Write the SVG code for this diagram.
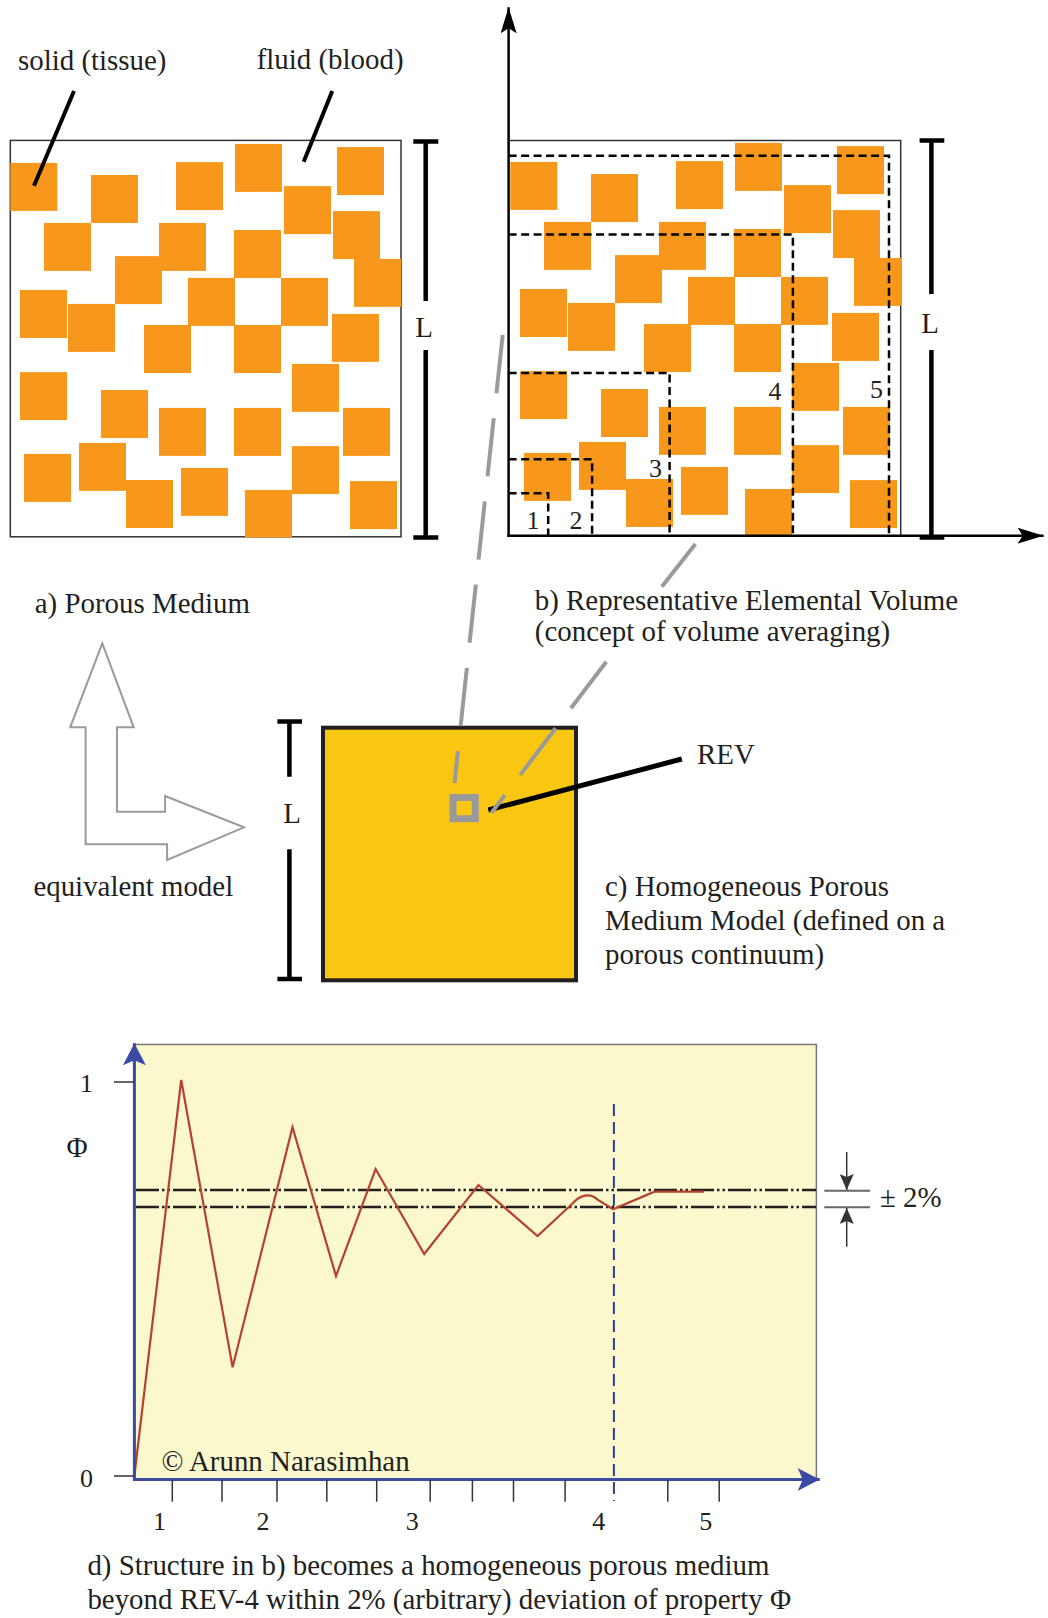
<svg xmlns="http://www.w3.org/2000/svg" xmlns:xlink="http://www.w3.org/1999/xlink" width="1048" height="1618" viewBox="0 0 1048 1618">
<style>
text{font-family:"Liberation Serif","Times New Roman",serif;fill:#231f20}
.t28{font-size:28.9px}
.t26{font-size:26px}
.pore{fill:#f7981d}
.box{fill:none;stroke:#333;stroke-width:1.5}
.rev{fill:none;stroke:#000;stroke-width:2.5;stroke-dasharray:8 4.5}
.gray{fill:none;stroke:#9a9a9a;stroke-width:4}
.dim{fill:none;stroke:#000;stroke-width:4.5}
.dd{fill:none;stroke:#231f20;stroke-width:2.7;stroke-dasharray:23 3 2.5 3 2.5 3}
.tick{stroke:#333;stroke-width:1.5}
.blue{stroke:#3b4ba3;stroke-width:3;fill:none}
</style>
<defs>
<g id="pores">
<rect class="pore" x="10.3" y="162.9" width="47" height="48"/>
<rect class="pore" x="91" y="175" width="47" height="48"/>
<rect class="pore" x="176" y="162.1" width="47" height="48"/>
<rect class="pore" x="235" y="143.9" width="47" height="48"/>
<rect class="pore" x="337" y="147.1" width="47" height="48"/>
<rect class="pore" x="284" y="186.1" width="47" height="48"/>
<rect class="pore" x="44" y="222.9" width="47" height="48"/>
<rect class="pore" x="159" y="222.9" width="47" height="48"/>
<rect class="pore" x="234" y="230" width="47" height="48"/>
<rect class="pore" x="333" y="211.1" width="47" height="48"/>
<rect class="pore" x="115" y="256.1" width="47" height="48"/>
<rect class="pore" x="354" y="258.9" width="47" height="48"/>
<rect class="pore" x="20" y="290" width="47" height="48"/>
<rect class="pore" x="68" y="303.9" width="47" height="48"/>
<rect class="pore" x="188" y="277.9" width="47" height="48"/>
<rect class="pore" x="281" y="277.9" width="47" height="48"/>
<rect class="pore" x="144" y="325" width="47" height="48"/>
<rect class="pore" x="234" y="325" width="47" height="48"/>
<rect class="pore" x="332" y="313.9" width="47" height="48"/>
<rect class="pore" x="20" y="372.1" width="47" height="48"/>
<rect class="pore" x="292" y="363.9" width="47" height="48"/>
<rect class="pore" x="101" y="390" width="47" height="48"/>
<rect class="pore" x="159" y="407.9" width="47" height="48"/>
<rect class="pore" x="234" y="407.9" width="47" height="48"/>
<rect class="pore" x="343" y="407.9" width="47" height="48"/>
<rect class="pore" x="24" y="453.9" width="47" height="48"/>
<rect class="pore" x="79" y="442.9" width="47" height="48"/>
<rect class="pore" x="292" y="446.1" width="47" height="48"/>
<rect class="pore" x="126" y="480" width="47" height="48"/>
<rect class="pore" x="181" y="467.9" width="47" height="48"/>
<rect class="pore" x="245" y="490" width="47" height="47.5"/>
<rect class="pore" x="350" y="481.1" width="47" height="48"/>
</g>
<marker id="ahk" viewBox="0 0 26 16" refX="26" refY="8" markerWidth="26" markerHeight="16" markerUnits="userSpaceOnUse" orient="auto">
<path d="M26,8 L0,0 L5,8 L0,16 Z" fill="#000"/>
</marker>
<marker id="ahb" viewBox="0 0 22 23" refX="22" refY="11.5" markerWidth="22" markerHeight="23" markerUnits="userSpaceOnUse" orient="auto">
<path d="M22,11.5 L0,0 L5,11.5 L0,23 Z" fill="#3b4ba3"/>
</marker>
<marker id="ahg" viewBox="0 0 16 14" refX="16" refY="7" markerWidth="16" markerHeight="14" markerUnits="userSpaceOnUse" orient="auto">
<path d="M16,7 L0,0 L3,7 L0,14 Z" fill="#333"/>
</marker>
</defs>

<!-- a) porous medium -->
<g id="panel-a">
<rect class="box" x="10.3" y="140.4" width="390.7" height="396.4"/>
<use xlink:href="#pores" href="#pores"/>
<line x1="74" y1="91" x2="34" y2="185.7" stroke="#000" stroke-width="4"/>
<line x1="332.3" y1="91" x2="303.7" y2="161.8" stroke="#000" stroke-width="4"/>
<text class="t28" x="18" y="69.5">solid (tissue)</text>
<text class="t28" x="256.7" y="69">fluid (blood)</text>
<path class="dim" d="M413.3,141.5 H438.3 M425.7,141.5 V301 M425.7,350 V537.5 M413.3,537.5 H438.3"/>
<text class="t28" x="424" y="337" text-anchor="middle">L</text>
<text class="t28" x="34.8" y="612.7">a) Porous Medium</text>
</g>

<!-- b) REV -->
<g id="panel-b">
<path class="box" d="M508.6,140.4 H900.7 V535.7"/>
<use xlink:href="#pores" href="#pores" transform="translate(500,-1)"/>
<path class="rev" d="M508.6,155.7 H889 V535.7"/>
<path class="rev" d="M508.6,234.6 H792.9 V535.7"/>
<path class="rev" d="M508.6,372.9 H669.6 V535.7"/>
<path class="rev" d="M508.6,459.3 H592.1 V535.7"/>
<path class="rev" d="M508.6,493.2 H548.2 V535.7"/>
<line x1="508.6" y1="537" x2="508.6" y2="7.3" stroke="#000" stroke-width="2.5" marker-end="url(#ahk)"/>
<line x1="507.4" y1="535.7" x2="1043.6" y2="535.7" stroke="#000" stroke-width="2.5" marker-end="url(#ahk)"/>
<text class="t26" x="533" y="529" text-anchor="middle">1</text>
<text class="t26" x="576" y="529" text-anchor="middle">2</text>
<text class="t26" x="655.5" y="477" text-anchor="middle">3</text>
<text class="t26" x="775" y="400" text-anchor="middle">4</text>
<text class="t26" x="876.5" y="398" text-anchor="middle">5</text>
<path class="dim" d="M919.6,140.4 H944.3 M931.4,140.4 V294 M931.4,350 V537.5 M919.6,537.5 H944.3"/>
<text class="t28" x="930" y="332.5" text-anchor="middle">L</text>
<text class="t28" x="534.8" y="610">b) Representative Elemental Volume</text>
<text class="t28" x="534.8" y="641">(concept of volume averaging)</text>
</g>

<!-- equivalent model arrow -->
<g id="equivalent-arrow">
<path d="M102.3,643.3 L133.7,727.3 L117,727.3 L117,811.7 L165.1,811.7 L165.1,796 L244,827.3 L167.1,860 L167.1,844.3 L85.6,844.3 L85.6,727.3 L70.2,727.3 Z" fill="#fff" stroke="#9a9a9a" stroke-width="2"/>
<text class="t28" x="33.4" y="896">equivalent model</text>
</g>

<!-- c) homogeneous model -->
<g id="panel-c">
<rect x="323" y="727.7" width="253" height="252.6" fill="#f9c712" stroke="#231f20" stroke-width="4"/>
<path class="dim" d="M277.4,721.5 H302 M289.4,721.5 V776.7 M289.4,849.3 V979 M277.4,979 H302"/>
<text class="t28" x="292" y="823" text-anchor="middle">L</text>
<rect x="453" y="797.5" width="22.3" height="21.2" fill="none" stroke="#9a9a9a" stroke-width="7"/>
<line x1="681.8" y1="759" x2="488.3" y2="810" stroke="#000" stroke-width="5"/>
<text class="t28" x="697" y="764">REV</text>
<text class="t28" x="605" y="896">c) Homogeneous Porous</text>
<text class="t28" x="605" y="930">Medium Model (defined on a</text>
<text class="t28" x="605" y="964">porous continuum)</text>
</g>

<!-- projection connectors -->
<g id="connectors">
<path class="gray" d="M502.7,335 L454.5,783" stroke-dasharray="58.5 25.2"/>
<path class="gray" d="M695.4,544 L661.8,586.7"/>
<path class="gray" d="M606.3,661.7 L491.5,812.7" stroke-dasharray="58.5 25.2"/>
</g>

<!-- d) graph -->
<g id="panel-d">
<rect x="134.4" y="1044.5" width="682" height="435" fill="#fbf8cd"/>
<path d="M134.4,1044.5 H816.4 V1479.5" fill="none" stroke="#777" stroke-width="1.5"/>
<line class="dd" x1="136" y1="1190" x2="816" y2="1190"/>
<line class="dd" x1="136" y1="1207" x2="816" y2="1207"/>
<line x1="613.9" y1="1104" x2="613.9" y2="1501" stroke="#2e3d99" stroke-width="2" stroke-dasharray="12 6"/>
<path d="M134.4,1475.7 L181.2,1080 L232.6,1367.3 L292.5,1127.3 L336,1276 L375.6,1169 L424.2,1254 L478.5,1185 L537.5,1236 L572,1204 C580,1195 590,1192 598,1200 L613,1209.3 L654.5,1191.7 L704,1191.7" fill="none" stroke="#b5412f" stroke-width="2.2" stroke-linejoin="miter"/>
<line class="blue" x1="134.4" y1="1481" x2="134.4" y2="1043.3" marker-end="url(#ahb)"/>
<line class="blue" x1="133" y1="1479.5" x2="819.7" y2="1479.5" marker-end="url(#ahb)"/>
<line class="tick" x1="114" y1="1082" x2="134" y2="1082"/>
<line class="tick" x1="114" y1="1476" x2="134" y2="1476"/>
<g class="tick">
<line x1="172.3" y1="1480" x2="172.3" y2="1501.7"/>
<line x1="222" y1="1480" x2="222" y2="1501.7"/>
<line x1="277" y1="1480" x2="277" y2="1501.7"/>
<line x1="326.8" y1="1480" x2="326.8" y2="1501.7"/>
<line x1="376.7" y1="1480" x2="376.7" y2="1501.7"/>
<line x1="430.2" y1="1480" x2="430.2" y2="1501.7"/>
<line x1="472.4" y1="1480" x2="472.4" y2="1501.7"/>
<line x1="513.5" y1="1480" x2="513.5" y2="1501.7"/>
<line x1="565.1" y1="1480" x2="565.1" y2="1501.7"/>
<line x1="667.8" y1="1480" x2="667.8" y2="1501.7"/>
<line x1="719.2" y1="1480" x2="719.2" y2="1501.7"/>
</g>
<text class="t26" x="93" y="1092" text-anchor="end">1</text>
<text class="t28" x="77" y="1157" text-anchor="middle">Φ</text>
<text class="t26" x="93" y="1487" text-anchor="end">0</text>
<text class="t26" x="159.5" y="1530" text-anchor="middle">1</text>
<text class="t26" x="263" y="1530" text-anchor="middle">2</text>
<text class="t26" x="412.2" y="1530" text-anchor="middle">3</text>
<text class="t26" x="598.8" y="1530" text-anchor="middle">4</text>
<text class="t26" x="705.8" y="1530" text-anchor="middle">5</text>
<text class="t28" x="161.4" y="1470.7">© Arunn Narasimhan</text>
<line x1="824.3" y1="1190.7" x2="870" y2="1190.7" stroke="#666" stroke-width="2"/>
<line x1="824.3" y1="1207.3" x2="870" y2="1207.3" stroke="#666" stroke-width="2"/>
<line x1="846.7" y1="1152" x2="846.7" y2="1190" stroke="#333" stroke-width="1.5" marker-end="url(#ahg)"/>
<line x1="846.7" y1="1246.7" x2="846.7" y2="1208" stroke="#333" stroke-width="1.5" marker-end="url(#ahg)"/>
<text class="t28" x="880" y="1207">± 2%</text>
<text class="t28" x="87.4" y="1575">d) Structure in b) becomes a homogeneous porous medium</text>
<text class="t28" x="87.4" y="1609">beyond REV-4 within 2% (arbitrary) deviation of property Φ</text>
</g>
</svg>
